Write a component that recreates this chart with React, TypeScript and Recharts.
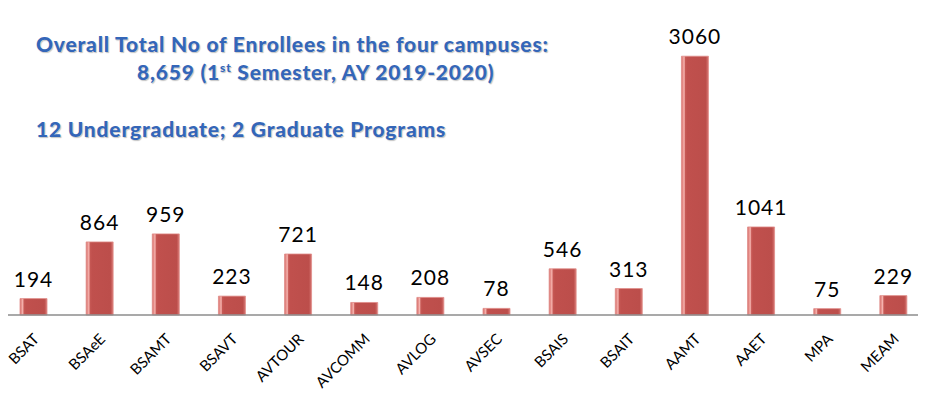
import { BarChart, Bar, XAxis, YAxis, LabelList } from 'recharts'

const programs = ['BSAT','BSAeE','BSAMT','BSAVT','AVTOUR','AVCOMM','AVLOG','AVSEC','BSAIS','BSAIT','AAMT','AAET','MPA','MEAM']
const enrollees = [194,864,959,223,721,148,208,78,546,313,3060,1041,75,229]

const data = programs.map((p, i) => ({ program: p, value: enrollees[i] }))

const FONT = 'Lato, "Open Sans", sans-serif'

function RotTick({ x, y, payload }: any) {
  return (
    <text x={x + 7} y={y + 17} transform={`rotate(-45 ${x + 7} ${y + 17})`} textAnchor="end"
      fontSize={15} fontFamily={FONT} fill="#000">{payload.value}</text>
  )
}

const titleStyle: React.CSSProperties = {
  position: 'absolute', fontFamily: FONT, fontWeight: 900, fontSize: 21, color: '#3466b8',
  textShadow: '0 0 2px #fff, 1px 1px 1px rgba(0,0,0,0.3)', whiteSpace: 'nowrap', letterSpacing: 0.8
}

export default function App() {
  return (
    <div style={{ position: 'relative', width: 926, height: 398, margin: -8, background: '#fff' }}>
      <BarChart width={926} height={398} data={data} margin={{ top: 19, right: 0, left: 0, bottom: 0 }} barSize={27}>
        <defs>
          <linearGradient id="barGrad" x1="0" y1="0" x2="1" y2="0">
            <stop offset="0%" stopColor="#d66e6a" />
            <stop offset="6%" stopColor="#e9948f" />
            <stop offset="10%" stopColor="#f6b4b0" />
            <stop offset="15%" stopColor="#c65854" />
            <stop offset="22%" stopColor="#c0504d" />
            <stop offset="90%" stopColor="#bc4e4b" />
            <stop offset="100%" stopColor="#d87874" />
          </linearGradient>
        </defs>
        <YAxis hide domain={[0, 3500]} />
        <XAxis dataKey="program" height={83} interval={0} tickLine={false} axisLine={{ stroke: '#8c8c8c', strokeWidth: 1.5 }} tick={<RotTick />} />
        <Bar dataKey="value" fill="url(#barGrad)" stroke="#e08c88" strokeWidth={0.8} isAnimationActive={false}>
          <LabelList dataKey="value" position="top" offset={12} fontSize={21} fontFamily={FONT} fill="#000" letterSpacing={1} />
        </Bar>
      </BarChart>
      <div style={{ ...titleStyle, left: 36, top: 31 }}>Overall Total No of Enrollees in the four campuses:</div>
      <div style={{ ...titleStyle, left: 137, top: 59 }}>8,659 (1<sup style={{ fontSize: 12 }}>st</sup> Semester, AY 2019-2020)</div>
      <div style={{ ...titleStyle, left: 36, top: 116 }}>12 Undergraduate; 2 Graduate Programs</div>
    </div>
  )
}
